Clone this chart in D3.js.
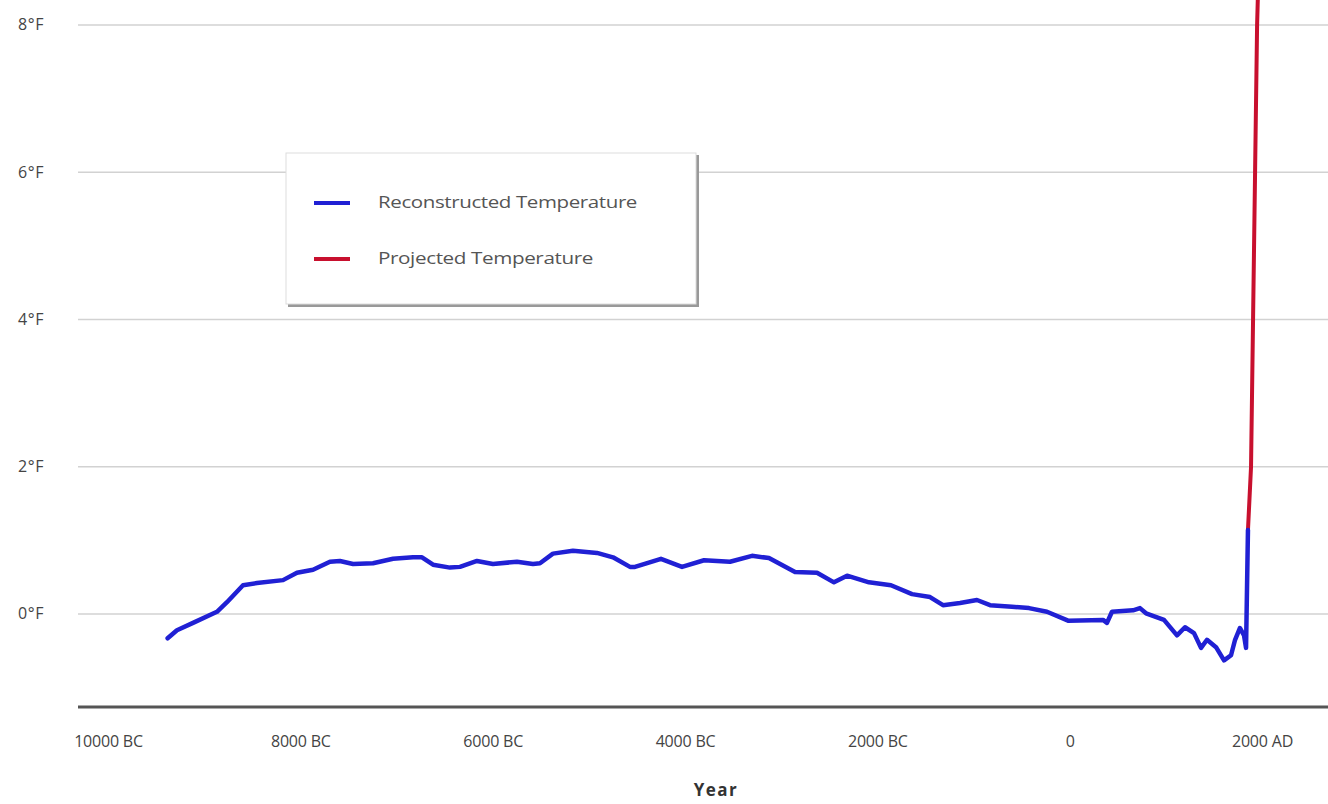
<!DOCTYPE html>
<html>
<head>
<meta charset="utf-8">
<script src="https://cdn.jsdelivr.net/npm/d3@7"></script>
<style>
  body { margin: 0; background: #fff; }
  svg { display: block; }
</style>
</head>
<body>
<div id="chart"></div>
<script>
const W = 1328;
const H = 804;

// reconstructed temperature (year, °F anomaly)
const reconYears = [
  -9380, -9283, -9116, -8867, -8763, -8596, -8451, -8180, -8035, -7868,
  -7692, -7588, -7452, -7244, -7036, -6828, -6735, -6620, -6444, -6340,
  -6163, -5997, -5747, -5581, -5508, -5373, -5165, -4915, -4749, -4572,
  -4520, -4250, -4031, -3802, -3532, -3303, -3127, -2856, -2627, -2451,
  -2315, -2087, -1858, -1639, -1452, -1317, -1140, -964, -828, -600,
  -423, -236, -17, 347, 388, 440, 659, 731, 794, 981,
  1116, 1199, 1293, 1366, 1428, 1522, 1605, 1678, 1720, 1771,
  1813, 1834, 1854
];
const reconTemps = [
  -0.33, -0.22, -0.12, 0.03, 0.16, 0.39, 0.42, 0.46, 0.56, 0.60,
  0.71, 0.72, 0.68, 0.69, 0.75, 0.77, 0.77, 0.67, 0.63, 0.64,
  0.72, 0.68, 0.71, 0.68, 0.69, 0.82, 0.86, 0.83, 0.77, 0.64,
  0.64, 0.75, 0.64, 0.73, 0.71, 0.79, 0.76, 0.57, 0.56, 0.43,
  0.52, 0.43, 0.39, 0.27, 0.23, 0.12, 0.15, 0.19, 0.12, 0.10,
  0.08, 0.03, -0.09, -0.08, -0.12, 0.03, 0.05, 0.08, 0.01, -0.08,
  -0.29, -0.18, -0.26, -0.46, -0.35, -0.45, -0.63, -0.56, -0.35, -0.19,
  -0.29, -0.46, 1.14
];

// projected temperature
const projYears = [1854, 1886, 1907, 1928, 1949, 1970];
const projTemps = [1.14, 2.0, 4.0, 6.0, 8.0, 9.0];

const xTicks = [-10000, -8000, -6000, -4000, -2000, 0, 2000];
const xTickLabels = ["10000 BC", "8000 BC", "6000 BC", "4000 BC", "2000 BC", "0", "2000 AD"];
const yTicks = [0, 2, 4, 6, 8];

const seriesNames = ["Reconstructed Temperature", "Projected Temperature"];
const seriesColors = ["#2020d4", "#c8102e"];

const recon = reconYears.map((yr, i) => ({ yr, t: reconTemps[i] }));
const proj = projYears.map((yr, i) => ({ yr, t: projTemps[i] }));

const svg = d3.select("#chart").append("svg")
  .attr("width", W)
  .attr("height", H)
  .style("font-family", "'Open Sans', sans-serif");

svg.append("defs").append("clipPath").attr("id", "plot-clip")
  .append("rect").attr("x", 0).attr("y", 0).attr("width", W).attr("height", 704);

const x = d3.scaleLinear().domain([-10000, 2000]).range([108, 1262]);
const y = d3.scaleLinear().domain([0, 8]).range([614, 25]);

// gridlines
svg.append("g").attr("class", "grid")
  .selectAll("line")
  .data(yTicks)
  .join("line")
  .attr("x1", 78)
  .attr("x2", W)
  .attr("y1", (d) => y(d))
  .attr("y2", (d) => y(d))
  .attr("stroke", "#d2d2d2")
  .attr("stroke-width", 1.6);

// y labels
svg.append("g").attr("class", "y-labels")
  .selectAll("text")
  .data(yTicks)
  .join("text")
  .attr("x", 18)
  .attr("y", (d) => y(d) + 1)
  .attr("dominant-baseline", "middle")
  .attr("font-size", 16)
  .attr("letter-spacing", 0.6)
  .attr("fill", "#444")
  .text((d) => `${d}°F`);

// bottom axis
const xAxis = d3.axisBottom(x)
  .tickValues(xTicks)
  .tickFormat((d, i) => xTickLabels[i])
  .tickSize(0)
  .tickPadding(29);

const axisG = svg.append("g")
  .attr("transform", "translate(0,707)")
  .call(xAxis);
axisG.select(".domain").remove();
axisG.selectAll("text")
  .attr("font-family", "'Open Sans', sans-serif")
  .attr("font-size", 16)
  .attr("letter-spacing", -0.2)
  .attr("fill", "#444");

svg.append("line")
  .attr("x1", 78)
  .attr("x2", W)
  .attr("y1", 707)
  .attr("y2", 707)
  .attr("stroke", "#555")
  .attr("stroke-width", 3);

svg.append("text")
  .attr("x", 716)
  .attr("y", 796)
  .attr("text-anchor", "middle")
  .attr("font-size", 17)
  .attr("font-weight", "bold")
  .attr("letter-spacing", 1.5)
  .attr("fill", "#333")
  .text("Year");

// lines
const line = d3.line()
  .x((d) => x(d.yr))
  .y((d) => y(d.t));

const plot = svg.append("g").attr("clip-path", "url(#plot-clip)");

plot.append("path")
  .datum(proj)
  .attr("fill", "none")
  .attr("stroke", seriesColors[1])
  .attr("stroke-width", 4)
  .attr("stroke-linejoin", "round")
  .attr("d", line);

plot.append("path")
  .datum(recon)
  .attr("fill", "none")
  .attr("stroke", seriesColors[0])
  .attr("stroke-width", 4.5)
  .attr("stroke-linejoin", "round")
  .attr("stroke-linecap", "round")
  .attr("d", line);

// legend
const legend = svg.append("g").attr("class", "legend")
  .attr("transform", "translate(286,153)");

legend.append("rect")
  .attr("x", 2)
  .attr("y", 2)
  .attr("width", 411)
  .attr("height", 152)
  .attr("fill", "#999");

legend.append("rect")
  .attr("width", 410)
  .attr("height", 151)
  .attr("fill", "#fff")
  .attr("stroke", "#ddd")
  .attr("stroke-width", 1);

const items = legend.selectAll("g.item")
  .data(seriesNames)
  .join("g")
  .attr("class", "item")
  .attr("transform", (d, i) => `translate(0,${50 + i * 56})`);

items.append("line")
  .attr("x1", 28)
  .attr("x2", 64)
  .attr("stroke", (d, i) => seriesColors[i])
  .attr("stroke-width", 4);

items.append("text")
  .attr("x", 92)
  .attr("y", 1)
  .attr("dominant-baseline", "middle")
  .attr("font-size", 16)
  .attr("letter-spacing", -0.3)
  .attr("fill", "#555")
  .attr("textLength", (d, i) => (i === 0 ? 259 : 215))
  .attr("lengthAdjust", "spacingAndGlyphs")
  .text((d) => d);
</script>
</body>
</html>
